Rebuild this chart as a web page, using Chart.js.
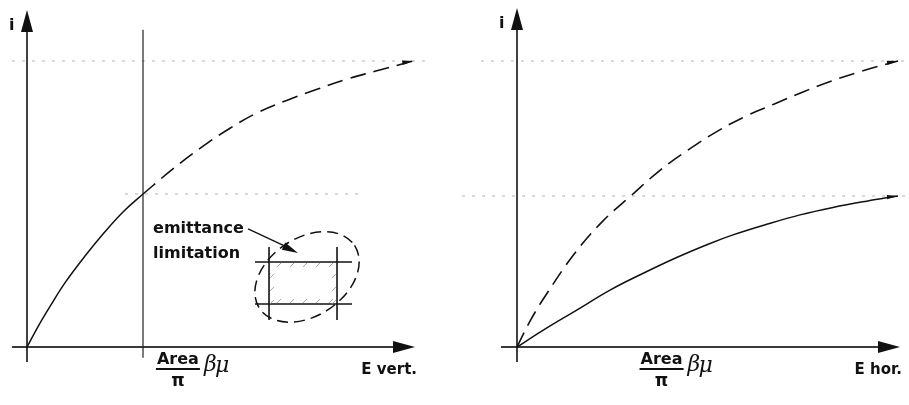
<!DOCTYPE html>
<html><head><meta charset="utf-8">
<script src="https://cdn.jsdelivr.net/npm/chart.js@4.4.0/dist/chart.umd.min.js"></script>
<style>
html,body{margin:0;padding:0;background:#fff;}
#wrap{position:relative;width:909px;height:405px;overflow:hidden;background:#fff;}
canvas{position:absolute;top:0;}
</style></head><body>
<div id="wrap">
<canvas id="left" width="454" height="405" style="left:0"></canvas>
<canvas id="right" width="455" height="405" style="left:454px"></canvas>
</div>
<script>
// ---- Data (E in units of Area/pi * beta*mu, i normalised to the saturation level) ----
// Left panel: E vert.
const leftSolidE = [0, 0.1, 0.2, 0.33, 0.5, 0.67, 0.83, 1.0];
const leftSolidI = [0, 0.075, 0.143, 0.226, 0.318, 0.402, 0.473, 0.535];
const leftDashE  = [1.0, 1.25, 1.5, 1.75, 2.0, 2.25, 2.5, 2.75, 3.0, 3.33];
const leftDashI  = [0.535, 0.62, 0.697, 0.765, 0.822, 0.864, 0.901, 0.936, 0.964, 1.0];
// Right panel: E hor.
const rightSolidE = [0, 0.23, 0.522, 0.813, 1.104, 1.396, 1.687, 1.888, 2.183, 2.474, 2.762, 3.057, 3.33];
const rightSolidI = [0, 0.059, 0.129, 0.199, 0.258, 0.313, 0.362, 0.392, 0.429, 0.462, 0.488, 0.51, 0.528];
const rightDashE  = [0, 0.12, 0.25, 0.5, 0.75, 1.0, 1.25, 1.5, 1.75, 2.0, 2.25, 2.5, 2.75, 3.0, 3.33];
const rightDashI  = [0, 0.095, 0.18, 0.325, 0.44, 0.53, 0.618, 0.69, 0.754, 0.807, 0.85, 0.892, 0.93, 0.963, 1.0];
// Reference levels
const fullLevel = 1.0;
const leftLimitLevel = 0.535;
const rightLimitLevel = 0.528;
const limitE = 1.0;
// Texts
const yLabel = 'i';
const leftXLabel = 'E vert.';
const rightXLabel = 'E hor.';
const fracNum = 'Area';
const fracDen = 'π';
const fracTail = ['β', 'μ'];
const insetLabel = ['emittance', 'limitation'];

const SANS = '"DejaVu Sans", "Liberation Sans", sans-serif';
const SERIF = '"DejaVu Serif", "Liberation Serif", serif';

function pts(xs, ys) { return xs.map((x, i) => ({x: x, y: ys[i]})); }

function arrowHead(ctx, tx, ty, ang, len, hw) {
  ctx.save();
  ctx.translate(tx, ty); ctx.rotate(ang);
  ctx.beginPath();
  ctx.moveTo(0, 0); ctx.lineTo(-len, -hw); ctx.lineTo(-len, hw); ctx.closePath();
  ctx.fill();
  ctx.restore();
}
function line(ctx, x1, y1, x2, y2, w, color, dash) {
  ctx.save();
  ctx.strokeStyle = color; ctx.lineWidth = w; ctx.setLineDash(dash || []);
  ctx.beginPath(); ctx.moveTo(x1, y1); ctx.lineTo(x2, y2); ctx.stroke();
  ctx.restore();
}
function txt(ctx, s, x, y, font, align) {
  ctx.save();
  ctx.fillStyle = '#111'; ctx.font = font; ctx.textAlign = align || 'left'; ctx.textBaseline = 'alphabetic';
  ctx.fillText(s, x, y);
  ctx.restore();
}
function fraction(ctx, left, base) {
  txt(ctx, fracNum, left, base, 'bold 16px ' + SANS);
  line(ctx, left - 1, base + 5, left + 43, base + 5, 2, '#111');
  txt(ctx, fracDen, left + 21, base + 22, 'bold 17px ' + SANS, 'center');
  txt(ctx, fracTail[0], left + 47, base + 7, 'italic 22px ' + SERIF);
  txt(ctx, fracTail[1], left + 58, base + 8, 'italic 22px ' + SERIF);
}
function endArrow(ctx, chart, ds) {
  const d = chart.data.datasets[ds].data;
  const a = d[d.length - 2], b = d[d.length - 1];
  const sx = chart.scales.x, sy = chart.scales.y;
  const x1 = sx.getPixelForValue(a.x), y1 = sy.getPixelForValue(a.y);
  const x2 = sx.getPixelForValue(b.x), y2 = sy.getPixelForValue(b.y);
  ctx.fillStyle = '#111';
  arrowHead(ctx, x2, y2, Math.atan2(y2 - y1, x2 - x1) * 0.6, 11, 2.2);
}

function drawFrame(ctx, chart, cfg) {
  const sx = chart.scales.x, sy = chart.scales.y;
  const X = v => sx.getPixelForValue(v), Y = v => sy.getPixelForValue(v);
  // guide lines
  cfg.guides.forEach(g => line(ctx, X(g[0]), Y(g[2]), X(g[1]), Y(g[2]), 1, '#b2b2b2', [3, 7]));
  // axes
  line(ctx, X(cfg.xFrom), Y(0), X(cfg.xTo) - 12, Y(0), 2, '#3a3a3a');
  line(ctx, X(0), Y(cfg.yFrom), X(0), Y(cfg.yTo) + 12, 1.6, '#111');
  ctx.fillStyle = '#111';
  arrowHead(ctx, X(cfg.xTo), Y(0), 0, 22, 6);
  arrowHead(ctx, X(0), Y(cfg.yTo), -Math.PI / 2, 22, 6);
  txt(ctx, yLabel, X(0) - 18, Y(cfg.yTo) + 20, 'bold 16px ' + SANS);
  txt(ctx, cfg.xLabel, X(cfg.xTo) + 2, Y(0) + 27, 'bold 15px ' + SANS, 'right');
  fraction(ctx, X(cfg.fracE), Y(0) + 17);
}

const leftPlugin = {
  id: 'leftDeco',
  beforeDatasetsDraw(chart) {
    const ctx = chart.ctx;
    const sx = chart.scales.x, sy = chart.scales.y;
    drawFrame(ctx, chart, {
      xFrom: -0.13, xTo: 3.345, yFrom: -0.0524, yTo: 1.178,
      guides: [[-0.13, 3.474, fullLevel], [0.845, 2.914, leftLimitLevel]],
      xLabel: leftXLabel, fracE: 1.12
    });
    // vertical limit line
    const vx = sx.getPixelForValue(limitE);
    line(ctx, vx, sy.getPixelForValue(1.109), vx, sy.getPixelForValue(-0.038), 1.2, '#222');
  },
  afterDatasetsDraw(chart) {
    const ctx = chart.ctx;
    endArrow(ctx, chart, 1);
    // inset: emittance limitation
    const sx = chart.scales.x, sy = chart.scales.y;
    const cx = sx.getPixelForValue(2.414), cy = sy.getPixelForValue(0.245);
    txt(ctx, insetLabel[0], cx - 154, cy - 44, 'bold 16px ' + SANS);
    txt(ctx, insetLabel[1], cx - 154, cy - 19, 'bold 16px ' + SANS);
    // pointer
    line(ctx, cx - 59, cy - 48, cx - 14, cy - 27, 1.3, '#111');
    ctx.fillStyle = '#111';
    arrowHead(ctx, cx - 9, cy - 24, Math.atan2(21, 45), 16, 4);
    // rectangle lines
    const L = cx - 38, R = cx + 30, T = cy - 15, B = cy + 27;
    line(ctx, cx - 52, T, cx + 45, T, 1.6, '#111');
    line(ctx, cx - 52, B, cx + 45, B, 1.6, '#111');
    line(ctx, L, cy - 30, L, cy + 43, 1.6, '#111');
    line(ctx, R, cy - 30, R, cy + 43, 1.6, '#111');
    // hatching inside the rectangle edges
    for (let x = L + 8; x < R - 3; x += 13) {
      line(ctx, x, T + 5, x + 4, T + 1, 0.9, '#9a9a9a');
      line(ctx, x, B - 1, x + 4, B - 5, 0.9, '#9a9a9a');
    }
    for (let y = T + 12; y < B - 3; y += 13) {
      line(ctx, L + 1, y + 4, L + 5, y, 0.9, '#9a9a9a');
      line(ctx, R - 5, y + 4, R - 1, y, 0.9, '#9a9a9a');
    }
    // dashed ellipse
    ctx.save();
    ctx.strokeStyle = '#111'; ctx.lineWidth = 1.5; ctx.setLineDash([11, 6]);
    ctx.beginPath(); ctx.ellipse(cx, cy, 57, 39, -0.585, 0, Math.PI * 2); ctx.stroke();
    ctx.restore();
  }
};

const rightPlugin = {
  id: 'rightDeco',
  beforeDatasetsDraw(chart) {
    drawFrame(chart.ctx, chart, {
      xFrom: -0.14, xTo: 3.348, yFrom: -0.0524, yTo: 1.185,
      guides: [[-0.315, 3.43, fullLevel], [-0.48, 3.43, rightLimitLevel]],
      xLabel: rightXLabel, fracE: 1.08
    });
  },
  afterDatasetsDraw(chart) {
    endArrow(chart.ctx, chart, 0);
    endArrow(chart.ctx, chart, 1);
  }
};

function makeChart(id, sets, xr, plugin) {
  return new Chart(document.getElementById(id), {
    type: 'scatter',
    data: { datasets: sets },
    options: {
      responsive: false, animation: false, devicePixelRatio: 1,
      layout: { padding: 0 },
      plugins: { legend: { display: false }, tooltip: { enabled: false }, title: { display: false } },
      elements: { point: { radius: 0 }, line: { borderColor: '#111', borderWidth: 1.6, tension: 0.4 } },
      scales: {
        x: { type: 'linear', display: false, min: xr[0], max: xr[1] },
        y: { type: 'linear', display: false, min: -0.2028, max: 1.2133 }
      }
    },
    plugins: [plugin]
  });
}

makeChart('left', [
  { data: pts(leftSolidE, leftSolidI), showLine: true, borderColor: '#111', borderWidth: 1.5 },
  { data: pts(leftDashE, leftDashI), showLine: true, borderColor: '#111', borderWidth: 1.6, borderDash: [16, 8] }
], [-27 / 116, 427 / 116], leftPlugin);

makeChart('right', [
  { data: pts(rightSolidE, rightSolidI), showLine: true, borderColor: '#111', borderWidth: 1.5 },
  { data: pts(rightDashE, rightDashI), showLine: true, borderColor: '#111', borderWidth: 1.6, borderDash: [16, 8] }
], [-63 / 114.4, 392 / 114.4], rightPlugin);
</script>
</body></html>
